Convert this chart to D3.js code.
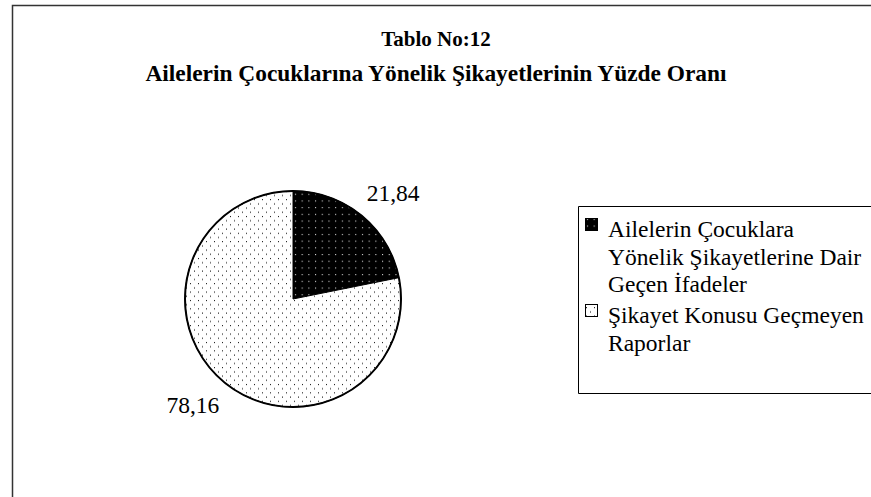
<!DOCTYPE html>
<html>
<head>
<meta charset="utf-8">
<script src="https://cdn.jsdelivr.net/npm/d3@7"></script>
<style>
  body { margin: 0; background: #fff; }
</style>
</head>
<body>
<svg id="chart" width="871" height="497"></svg>
<script>
// chart data
var titleLines = ["Tablo No:12", "Ailelerin Çocuklarına Yönelik Şikayetlerinin Yüzde Oranı"];
var categories = ["Ailelerin Çocuklara Yönelik Şikayetlerine Dair Geçen İfadeler", "Şikayet Konusu Geçmeyen Raporlar"];
var legendLines = [["Ailelerin Çocuklara", "Yönelik Şikayetlerine Dair", "Geçen İfadeler"], ["Şikayet Konusu Geçmeyen", "Raporlar"]];
var values = [21.84, 78.16];
var valueLabels = ["21,84", "78,16"];

var width = 871, height = 497;
var serif = "'Liberation Serif', 'Times New Roman', Times, serif";
var svg = d3.select("#chart").attr("font-family", serif);

// dotted fills
var defs = svg.append("defs");
var pDark = defs.append("pattern").attr("id", "dotsDark")
  .attr("patternUnits", "userSpaceOnUse").attr("width", 6.7).attr("height", 6.7);
pDark.append("rect").attr("width", 6.7).attr("height", 6.7).attr("fill", "#000");
pDark.append("rect").attr("x", 2).attr("y", 2).attr("width", 1).attr("height", 1).attr("fill", "#fff");

var pLight = defs.append("pattern").attr("id", "dotsLight")
  .attr("patternUnits", "userSpaceOnUse").attr("width", 8).attr("height", 8.4);
pLight.append("rect").attr("width", 8).attr("height", 8.4).attr("fill", "#fff");
pLight.append("rect").attr("x", 1).attr("y", 1).attr("width", 1).attr("height", 1).attr("fill", "#000");
pLight.append("rect").attr("x", 5).attr("y", 5.2).attr("width", 1).attr("height", 1).attr("fill", "#000");

var fills = ["url(#dotsDark)", "url(#dotsLight)"];

// outer frame (runs off right and bottom)
svg.append("path")
  .attr("d", "M12.5," + (height + 2) + "V5.5H" + (width + 2))
  .attr("fill", "none").attr("stroke", "#333").attr("stroke-width", 1.5);

// title
var titleSize = [21, 23.4];
svg.selectAll("text.title").data(titleLines).enter().append("text")
  .attr("class", "title")
  .attr("x", 436).attr("y", function (d, i) { return 46 + i * 35; })
  .attr("text-anchor", "middle")
  .style("font-family", serif)
  .style("font-weight", "bold")
  .style("font-size", function (d, i) { return titleSize[i] + "px"; })
  .text(function (d) { return d; });

// pie
var cx = 293, cy = 299, radius = 108;
var pie = d3.pie().sort(null).value(function (d) { return d; });
var arc = d3.arc().innerRadius(0).outerRadius(radius);
var labelArc = d3.arc().innerRadius(146).outerRadius(146);
var arcs = pie(values);

var g = svg.append("g").attr("transform", "translate(" + cx + "," + cy + ")");
g.selectAll("path.slice").data(arcs).enter().append("path")
  .attr("class", "slice")
  .attr("d", arc)
  .attr("fill", function (d, i) { return fills[i]; })
  .attr("stroke", "#000").attr("stroke-width", 1);
g.append("circle").attr("r", radius).attr("fill", "none")
  .attr("stroke", "#000").attr("stroke-width", 2);

// labels sit a little clockwise of the slice middle, as in the original
var shift = 0.07;
g.selectAll("text.val").data(arcs).enter().append("text")
  .attr("class", "val")
  .attr("transform", function (d) {
    var c = labelArc.centroid({ startAngle: d.startAngle + shift, endAngle: d.endAngle + shift });
    return "translate(" + c + ")";
  })
  .attr("text-anchor", "middle").attr("dy", "0.33em")
  .style("font-family", serif)
  .style("font-size", "23.5px")
  .text(function (d, i) { return valueLabels[i]; });

// legend
var legend = svg.append("g");
legend.append("path")
  .attr("d", "M" + (width + 2) + ",206.5H578.5V393.5H" + (width + 2))
  .attr("fill", "none").attr("stroke", "#000").attr("stroke-width", 1);

var entryY = [237, 323];
var item = legend.selectAll("g.item").data(categories).enter().append("g")
  .attr("class", "item")
  .attr("transform", function (d, i) { return "translate(585," + entryY[i] + ")"; });
item.append("rect")
  .attr("x", 0.5).attr("y", -18.5).attr("width", 12).attr("height", 12)
  .attr("fill", function (d, i) { return fills[i]; })
  .attr("stroke", "#000").attr("stroke-width", 1);
item.append("text")
  .attr("x", 23)
  .style("font-family", serif)
  .style("font-size", "23.5px")
  .selectAll("tspan")
  .data(function (d, i) { return legendLines[i]; })
  .enter().append("tspan")
  .attr("x", 23).attr("y", function (d, j) { return j * 27.5; })
  .text(function (d) { return d; });
</script>
</body>
</html>
